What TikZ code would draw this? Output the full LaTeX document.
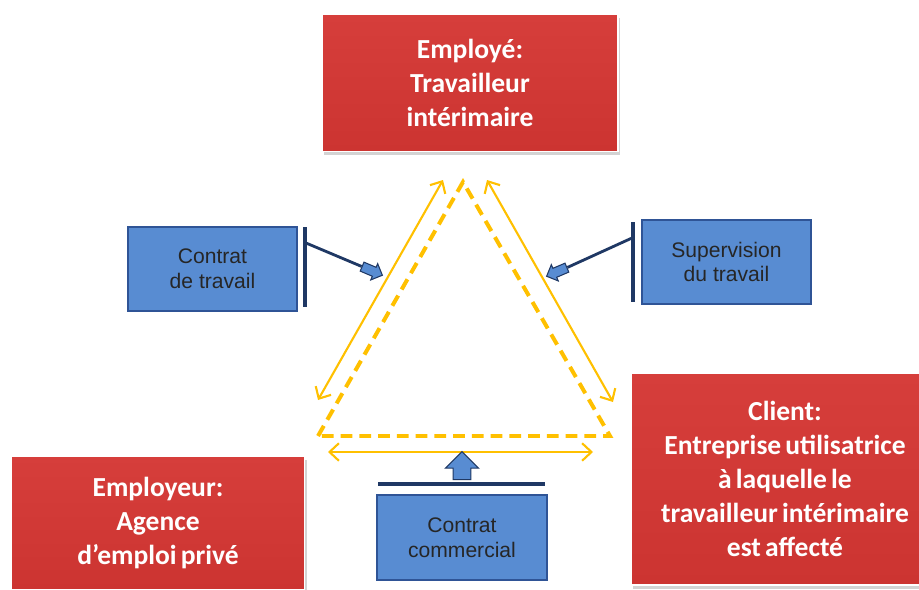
\documentclass[tikz,border=0pt]{standalone}
\usepackage{fontspec}
\setmainfont{Carlito}
\newfontfamily\arialfont{Liberation Sans}
\usetikzlibrary{arrows.meta,shapes.arrows,shadows}

\definecolor{partyred}{HTML}{CC3431}
\definecolor{partyredtop}{HTML}{D63E3B}
\definecolor{deedblue}{HTML}{588CD2}
\definecolor{deedline}{HTML}{2F5496}
\definecolor{navy}{HTML}{1F3864}
\definecolor{gold}{HTML}{FFC000}
\newcommand\tightwords{\spaceskip=0.15em\relax}

\begin{document}
\begin{tikzpicture}[x=0.03cm,y=-0.03cm,
  party/.style={top color=partyredtop,bottom color=partyred,draw=white,
    line width=1.5pt,text=white,align=center,inner sep=0pt,
    font=\fontsize{23.5}{29}\selectfont\bfseries\tightwords,
    drop shadow={opacity=0.35,shadow xshift=2pt,shadow yshift=-3pt}},
  deed/.style={fill=deedblue,draw=deedline,line width=1.2pt,align=center,
    text=black!85,font=\arialfont\fontsize{18}{21}\selectfont},
  bar/.style={draw=navy,line width=2.6pt},
  link/.style={draw=navy,line width=2.4pt},
  push/.style={single arrow,fill=deedblue,draw=navy,line width=0.9pt,
    inner xsep=0pt,inner ysep=0.13cm,minimum height=0.66cm,
    single arrow head extend=0.12cm},
  tri/.style={draw=gold,line width=3.4pt,dash pattern=on 10pt off 6pt},
  flow/.style={draw=gold,line width=1.8pt,
    {Straight Barb[length=8pt,width=15pt]}-{Straight Barb[length=8pt,width=15pt]}}]
  \clip (0,0) rectangle (919,590);

  % les trois parties
  \node[party,minimum width=8.88cm,minimum height=4.11cm] (employe) at (470,83)
    {Employé:\\Travailleur\\intérimaire};
  \node[party,minimum width=8.79cm,minimum height=4.02cm] (employeur) at (158,523)
    {Employeur:\\Agence\\d’emploi privé};
  \node[party,minimum width=9.24cm,minimum height=6.36cm] (client) at (785,479)
    {Client:\\Entreprise utilisatrice\\à laquelle le\\travailleur intérimaire\\est affecté};

  % triangle des relations
  \coordinate (apex) at (463,182);
  \coordinate (bl) at (318,436);
  \coordinate (br) at (610,436);
  \draw[tri] (bl) -- (apex) -- (br) -- cycle;
  \coordinate (l1) at (443,180); \coordinate (l2) at (318,400);
  \coordinate (r1) at (487,180); \coordinate (r2) at (613,402);
  \coordinate (b1) at (328,452); \coordinate (b2) at (593,452);
  \draw[flow] (l1) -- (l2);
  \draw[flow] (r1) -- (r2);
  \draw[flow] (b1) -- (b2);

  % les contrats
  \node[deed,minimum width=5.07cm,minimum height=2.52cm] (travail) at (212.5,269)
    {Contrat\\de travail};
  \node[deed,minimum width=5.07cm,minimum height=2.52cm] (supervision) at (726.5,262)
    {Supervision\\du travail};
  \node[deed,minimum width=5.1cm,minimum height=2.55cm] (commercial) at (462,537.5)
    {Contrat\\commercial};

  \draw[bar] (305,227) -- (305,307);
  \draw[bar] (633,222) -- (633,302);
  \draw[bar] (378,484) -- (545,484);
  \coordinate (lfoot) at (306,243);
  \coordinate (rfoot) at (632,238);

  \node[push,rotate=-23] (lpush) at (370,270) {};
  \node[push,rotate=203] (rpush) at (559,271) {};
  \node[push,rotate=90,minimum height=0.84cm,inner ysep=0.25cm,
    single arrow head extend=0.23cm] (bpush) at (462,470) {};
  \draw[link] (lfoot) -- (lpush.west);
  \draw[link] (rfoot) -- (rpush.west);
\end{tikzpicture}
\end{document}
